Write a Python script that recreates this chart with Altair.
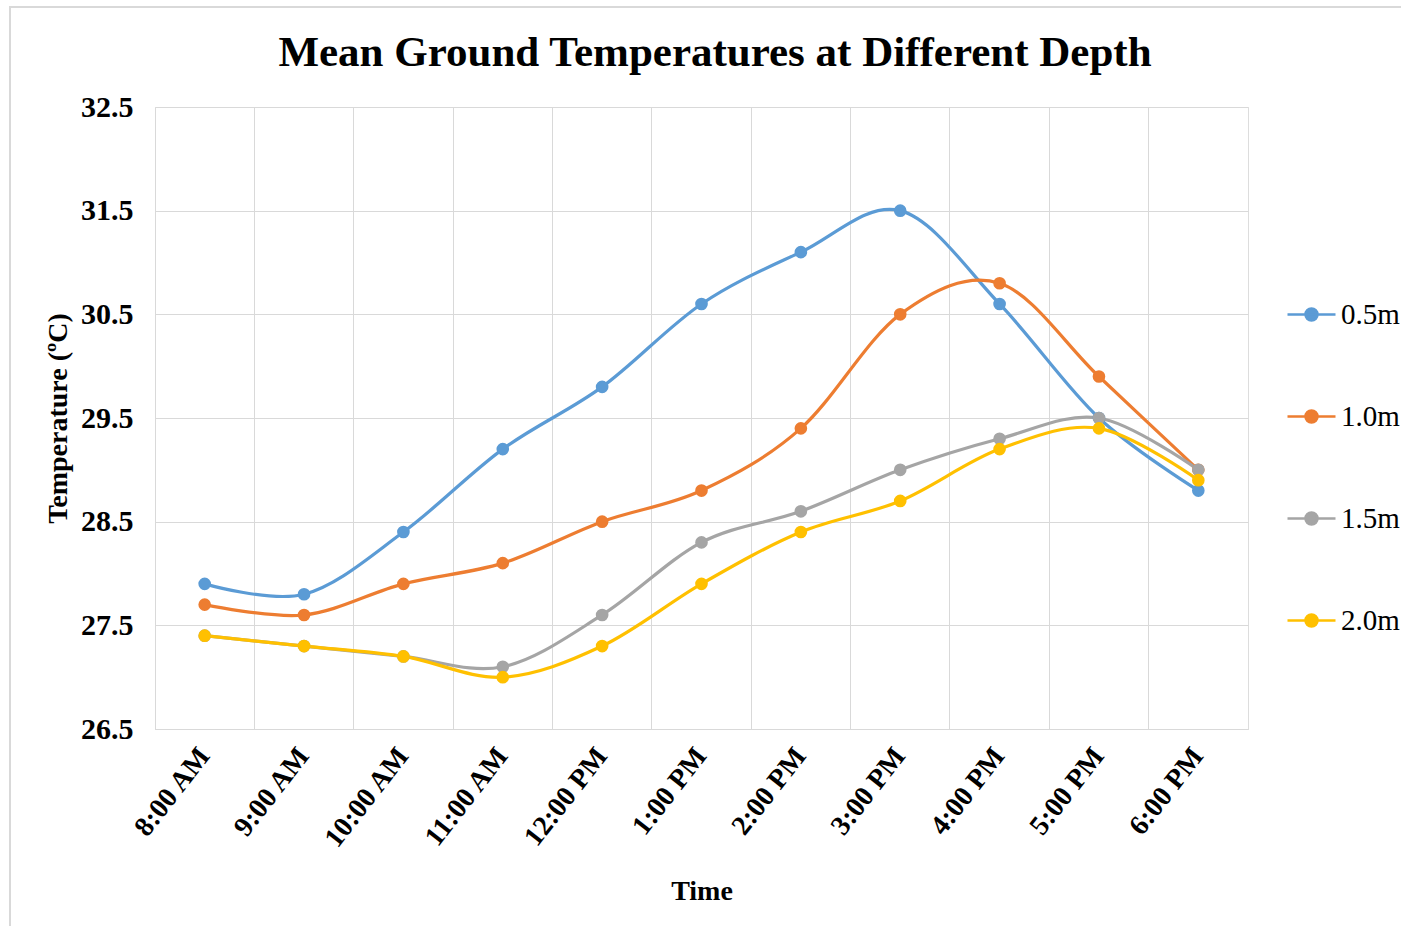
import altair as alt
import pandas as pd

times = ["8:00 AM", "9:00 AM", "10:00 AM", "11:00 AM", "12:00 PM", "1:00 PM",
         "2:00 PM", "3:00 PM", "4:00 PM", "5:00 PM", "6:00 PM"]
depths = ["0.5m", "1.0m", "1.5m", "2.0m"]
d05 = [27.9, 27.8, 28.4, 29.2, 29.8, 30.6, 31.1, 31.5, 30.6, 29.5, 28.8]
d10 = [27.7, 27.6, 27.9, 28.1, 28.5, 28.8, 29.4, 30.5, 30.8, 29.9, 29.0]
d15 = [27.4, 27.3, 27.2, 27.1, 27.6, 28.3, 28.6, 29.0, 29.3, 29.5, 29.0]
d20 = [27.4, 27.3, 27.2, 27.0, 27.3, 27.9, 28.4, 28.7, 29.2, 29.4, 28.9]
colors = ["#5B9BD5", "#ED7D31", "#A5A5A5", "#FFC000"]
y_ticks = [26.5, 27.5, 28.5, 29.5, 30.5, 31.5, 32.5]
title_text = "Mean Ground Temperatures at Different Depth"

rows = []
for name, vals in zip(depths, [d05, d10, d15, d20]):
    for t, v in zip(times, vals):
        rows.append({"Time": t, "Depth": name, "Temp": v})
df = pd.DataFrame(rows)

W, H = 1093, 622
FONT = "Liberation Serif"
legend_path = ("M-1,0H1M-0.25,0A0.25,0.25,0,1,1,0.25,0"
               "A0.25,0.25,0,1,1,-0.25,0Z")

x = alt.X("Time:N", sort=times, bandPosition=0.5,
          scale=alt.Scale(type="band", paddingInner=0, paddingOuter=0),
          axis=alt.Axis(title="Time", bandPosition=0, labelOffset=0,
                        labelAngle=-52, labelAlign="right", labelBaseline="middle",
                        labelPadding=22, ticks=False, domainColor="#d9d9d9",
                        grid=True, gridColor="#d9d9d9", labelFont=FONT,
                        labelFontSize=28, labelFontWeight="bold", labelColor="black",
                        titleFont=FONT, titleFontSize=28, titleFontWeight="bold",
                        titleColor="black", titlePadding=24))
y = alt.Y("Temp:Q", scale=alt.Scale(domain=[26.5, 32.5], nice=False, zero=False),
          axis=alt.Axis(title="Temperature (ºC)", values=y_ticks, format=".1f",
                        ticks=False, domain=False, grid=True, gridColor="#d9d9d9",
                        labelFont=FONT, labelFontSize=30, labelFontWeight="bold",
                        labelColor="black", labelPadding=22, titleFont=FONT,
                        titleFontSize=28, titleFontWeight="bold", titleColor="black",
                        titlePadding=8))
color = alt.Color("Depth:N", scale=alt.Scale(domain=depths, range=colors),
                  legend=alt.Legend(title=None, orient="none", legendX=1131,
                                    legendY=182, symbolType=legend_path,
                                    symbolSize=2304, symbolStrokeWidth=2.5,
                                    labelFont=FONT, labelFontSize=29,
                                    labelColor="black", labelOffset=4,
                                    rowPadding=61))

base = alt.Chart(df)
lines = base.mark_line(interpolate="cardinal", strokeWidth=3.2).encode(x=x, y=y, color=color)
points = base.mark_point(filled=True, size=160, opacity=1).encode(x=x, y=y, color=color)
deco = alt.Chart(pd.DataFrame({"a": [0]}))
frame = deco.mark_rect(
    fill=None, stroke="#d9d9d9", strokeWidth=2, clip=False
).encode(x=alt.value(-145), x2=alt.value(1260), y=alt.value(-100), y2=alt.value(830))
title = deco.mark_text(
    text=title_text, font=FONT, fontSize=43, fontWeight="bold", color="black",
    align="center", baseline="alphabetic", clip=False
).encode(x=alt.value(560), y=alt.value(-41))

chart = alt.layer(frame, title, lines, points).properties(
    width=W, height=H,
    autosize=alt.AutoSizeParams(type="none"),
    padding={"left": 155, "top": 107, "right": 153, "bottom": 197},
).configure_view(stroke="#d9d9d9", strokeWidth=1).configure(background="white")

chart.save("out.html", embed_options={"renderer": "svg", "actions": False})
